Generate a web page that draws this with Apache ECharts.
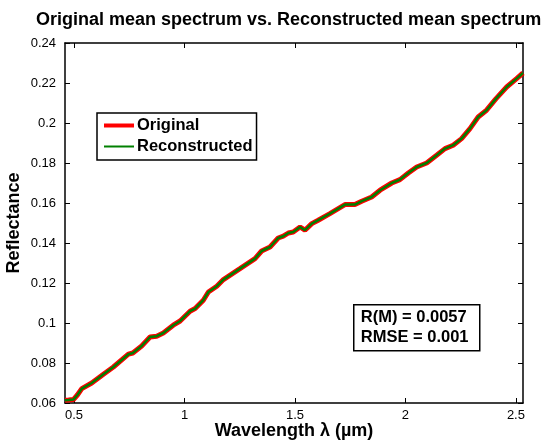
<!DOCTYPE html>
<html>
<head>
<meta charset="utf-8">
<title>Original vs Reconstructed mean spectrum</title>
<script src="https://cdn.jsdelivr.net/npm/echarts@6/dist/echarts.min.js"></script>
<style>
  html, body { margin: 0; padding: 0; background: #fff; }
  .chart { width: 550px; height: 441px; }
</style>
</head>
<body>
<div class="chart"></div>
<script>
// wavelength of each sample (um)
var wavelengths = [0.459, 0.475, 0.497, 0.515, 0.535, 0.580, 0.633, 0.678, 0.746, 0.766,
  0.806, 0.844, 0.874, 0.904, 0.949, 0.980, 1.025, 1.048, 1.085, 1.108,
  1.146, 1.176, 1.251, 1.319, 1.349, 1.387, 1.424, 1.447, 1.470, 1.492,
  1.523, 1.545, 1.576, 1.605, 1.658, 1.726, 1.771, 1.802, 1.847, 1.885,
  1.938, 1.975, 2.013, 2.051, 2.096, 2.141, 2.179, 2.216, 2.254, 2.292,
  2.329, 2.367, 2.410, 2.458, 2.503, 2.532];
// original mean reflectance
var original = [0.0614, 0.0615, 0.0617, 0.0640, 0.0672, 0.0700, 0.0744, 0.0780, 0.0844, 0.0850,
  0.0885, 0.0930, 0.0934, 0.0950, 0.0989, 0.1010, 0.1059, 0.1072, 0.1114, 0.1155,
  0.1184, 0.1217, 0.1272, 0.1322, 0.1360, 0.1380, 0.1425, 0.1434, 0.1450, 0.1455,
  0.1480, 0.1464, 0.1497, 0.1514, 0.1547, 0.1592, 0.1592, 0.1609, 0.1630, 0.1664,
  0.1700, 0.1717, 0.1750, 0.1780, 0.1800, 0.1839, 0.1872, 0.1889, 0.1922, 0.1972,
  0.2030, 0.2064, 0.2122, 0.2180, 0.2222, 0.2250];
// reconstructed mean reflectance (lies on top of the original at this scale)
var reconstructed = [0.0614, 0.0615, 0.0617, 0.0640, 0.0672, 0.0700, 0.0744, 0.0780, 0.0844, 0.0850,
  0.0885, 0.0930, 0.0934, 0.0950, 0.0989, 0.1010, 0.1059, 0.1072, 0.1114, 0.1155,
  0.1184, 0.1217, 0.1272, 0.1322, 0.1360, 0.1380, 0.1425, 0.1434, 0.1450, 0.1455,
  0.1480, 0.1464, 0.1497, 0.1514, 0.1547, 0.1592, 0.1592, 0.1609, 0.1630, 0.1664,
  0.1700, 0.1717, 0.1750, 0.1780, 0.1800, 0.1839, 0.1872, 0.1889, 0.1922, 0.1972,
  0.2030, 0.2064, 0.2122, 0.2180, 0.2222, 0.2250];
// x tick labels
var xTicks = [0.5, 1, 1.5, 2, 2.5];
var statLines = ["R(M) = 0.0057", "RMSE = 0.001"];

(function () {
  var font = "'Liberation Sans', Arial, Helvetica, sans-serif";

  function pairs(ys) {
    return wavelengths.map(function (x, i) { return [x, ys[i]]; });
  }

  // 1.init
  var myChart = echarts.init(document.querySelector(".chart"), null, { renderer: "canvas" });

  // shared axis look (matlab style box with inward ticks)
  var lineBlack = { show: true, onZero: false, lineStyle: { color: "#000", width: 1.5 } };
  var tickIn = { show: true, inside: true, length: 5, lineStyle: { color: "#000", width: 1 } };

  // 2.option
  var option = {
    animation: false,
    backgroundColor: "#fff",
    title: {
      text: "Original mean spectrum vs. Reconstructed mean spectrum",
      left: 36,
      top: 11,
      padding: 0,
      textStyle: { fontFamily: font, fontSize: 18, fontWeight: "bold", color: "#000" }
    },
    // fixed plot box, no auto shrinking for labels
    grid: { left: 65, right: 27, top: 43, bottom: 38, containLabel: false, outerBoundsMode: "none" },
    legend: {
      orient: "vertical",
      left: 97,
      top: 113,
      padding: [4, 4, 5, 5],
      itemWidth: 30,
      itemHeight: 14,
      itemGap: 4,
      borderColor: "#000",
      borderWidth: 1.5,
      backgroundColor: "#fff",
      // hide the marker dot, keep only the line
      itemStyle: { opacity: 0 },
      textStyle: { fontFamily: font, fontSize: 16.5, fontWeight: "bold", color: "#000", padding: [0, 0, 0, -2] },
      data: [
        { name: "Original", lineStyle: { width: 4 } },
        { name: "Reconstructed", lineStyle: { width: 2 } }
      ]
    },
    xAxis: [{
      type: "value",
      min: 0.459,
      max: 2.532,
      name: "Wavelength λ (µm)",
      nameLocation: "middle",
      nameGap: 19,
      nameMoveOverlap: false,
      nameTextStyle: { fontFamily: font, fontSize: 18, fontWeight: "bold", color: "#000" },
      axisLine: lineBlack,
      axisTick: Object.assign({ customValues: xTicks }, tickIn),
      axisLabel: { customValues: xTicks, fontFamily: font, fontSize: 13, color: "#000", margin: 6 },
      splitLine: { show: false }
    }, {
      type: "value",
      position: "top",
      min: 0.459,
      max: 2.532,
      axisLine: lineBlack,
      axisTick: Object.assign({ customValues: xTicks }, tickIn),
      axisLabel: { show: false },
      splitLine: { show: false }
    }],
    yAxis: [{
      type: "value",
      min: 0.06,
      max: 0.24,
      interval: 0.02,
      name: "Reflectance",
      nameLocation: "middle",
      nameGap: 42,
      nameMoveOverlap: false,
      nameTextStyle: { fontFamily: font, fontSize: 18, fontWeight: "bold", color: "#000" },
      axisLine: lineBlack,
      axisTick: tickIn,
      axisLabel: { fontFamily: font, fontSize: 13, color: "#000", margin: 9 },
      splitLine: { show: false }
    }, {
      type: "value",
      position: "right",
      min: 0.06,
      max: 0.24,
      interval: 0.02,
      axisLine: lineBlack,
      axisTick: tickIn,
      axisLabel: { show: false },
      splitLine: { show: false }
    }],
    series: [{
      name: "Original",
      type: "line",
      symbol: "none",
      color: "#ff0000",
      lineStyle: { color: "#ff0000", width: 5 },
      data: pairs(original)
    }, {
      name: "Reconstructed",
      type: "line",
      symbol: "none",
      color: "#008000",
      lineStyle: { color: "#008000", width: 2.5 },
      data: pairs(reconstructed)
    }],
    // stats box
    graphic: [{
      type: "group",
      left: 353,
      top: 304,
      children: [{
        type: "rect",
        shape: { x: 0, y: 0, width: 126, height: 46 },
        style: { fill: "#fff", stroke: "#000", lineWidth: 1.5 }
      }, {
        type: "text",
        x: 7,
        y: 3,
        style: {
          text: statLines.join("\n"),
          font: "bold 16.5px " + font,
          lineHeight: 19.5,
          fill: "#000"
        }
      }]
    }]
  };

  // 3.set option
  myChart.setOption(option);

  window.addEventListener("resize", function () {
    myChart.resize();
  });
})();
</script>
</body>
</html>
